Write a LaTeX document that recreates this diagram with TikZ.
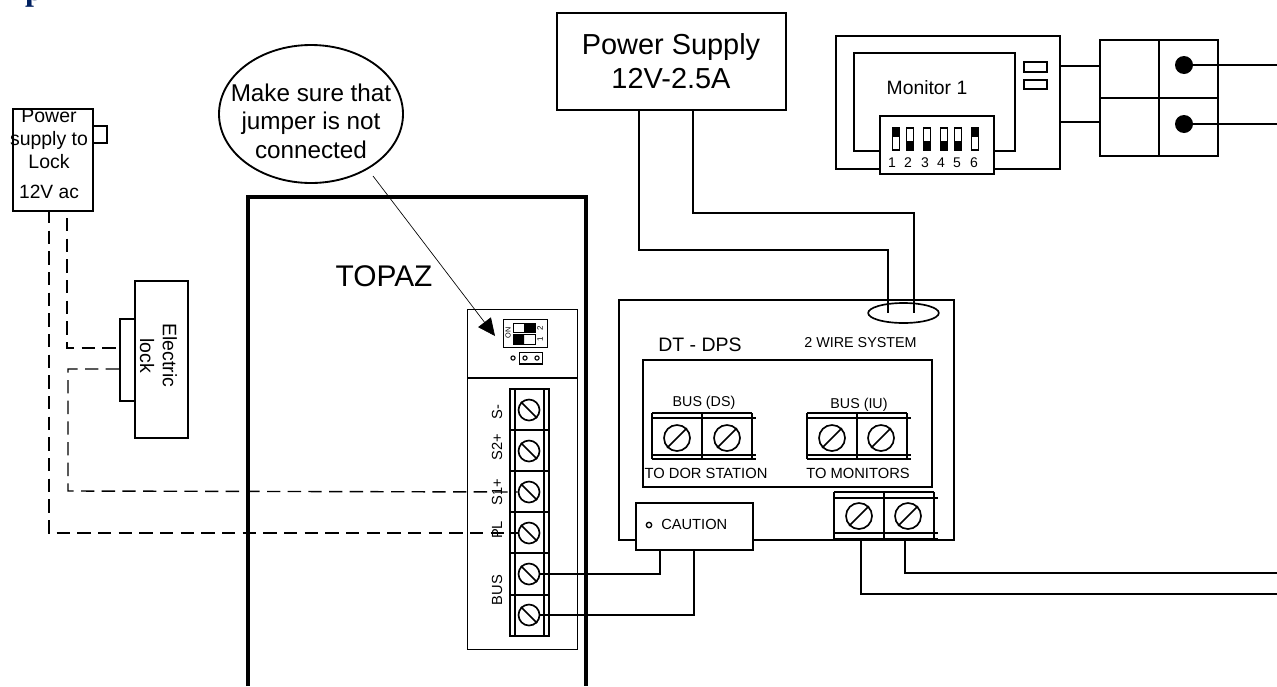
\documentclass[tikz,border=0pt]{standalone}
\usepackage{fontspec}
\setmainfont{Liberation Sans}
\usetikzlibrary{arrows.meta,calc,shapes.geometric}
\definecolor{navy}{RGB}{0,32,96}
\tikzset{
 wire/.style={line width=1.2pt,line join=miter},
 dashwire/.style={line width=1.05pt,dash pattern=on 10pt off 5.5pt},
 boxn/.style={draw,line width=1.25pt,fill=white,inner sep=0pt,align=center},
 thin box/.style={draw,line width=0.6pt,inner sep=0pt},
 screwn/.style={circle,draw,line width=1.25pt,inner sep=0pt,minimum size=#1*0.75pt},
 lbl/.style={inner sep=0pt,align=center},
}
% \bx name x1 y1 x2 y2 extra : rectangle as a named node
\newcommand{\bx}[6]{\node[boxn,#6,minimum width=#4*0.75pt-#2*0.75pt,minimum height=#5*0.75pt-#3*0.75pt,anchor=north west] (#1) at (#2,#3) {};}
\newcommand{\screwA}[4]{\node[screwn=#4,fill=white] (#1) at (#2,#3) {};\draw[line width=1.25pt] (#1.135) -- (#1.-45);}
\newcommand{\screwB}[4]{\node[screwn=#4,fill=white] (#1) at (#2,#3) {};\draw[line width=1.25pt] (#1.45) -- (#1.-135);}
% horizontal terminal block: x1 xdiv x2 y1 y2 y3 y4
\newcommand{\termblock}[7]{\draw[line width=1.2pt] (#1,#4) -- (#3,#4) (#1,#5) -- ++(#3-#1+4,0) (#1,#6) -- ++(#3-#1+4,0) (#1,#7) -- ++(#3-#1+4,0) (#1,#4) -- (#1,#7) (#2,#4) -- (#2,#7) (#3,#4) -- (#3,#7);}
\begin{document}
\begin{tikzpicture}[x=0.75pt,y=-0.75pt]
\useasboundingbox (0,0) rectangle (1277,686);
\clip (0,0) rectangle (1277,686);
% cropped title letter
\node[anchor=base,inner sep=0pt,text=navy,font=\fontspec{Liberation Serif}\bfseries\fontsize{24}{24}\selectfont] (ttl) at (34,0) {p};
% Power supply
\bx{ps}{556}{12}{785}{109}{}
\node[lbl,font=\fontsize{21.7}{25.5}\selectfont] (pst) at (671,61.5) {Power Supply\\12V-2.5A};
% Monitor
\bx{mon}{835}{35}{1059}{168}{}
\bx{moni}{853}{52}{1014}{150}{}
\node[lbl,font=\fontsize{14.5}{15}\selectfont] (mont) at (927,88) {Monitor 1};
\bx{dip}{879}{115}{993}{173}{}
\bx{mb1}{1023}{61}{1046}{71}{}
\bx{mb2}{1023}{79}{1046}{88}{}
\foreach \n/\x/\t/\lx in {1/896/1/892,2/910/0/908,3/927/0/925,4/944/0/941,5/958/0/957,6/975/1/974}{
 \node[draw,line width=1pt,fill=white,minimum width=5.2pt,minimum height=16.5pt,inner sep=0pt] (sw\n) at (\x,139) {};
 \ifnum\t=1 \fill (\x-3.5,128) rectangle (\x+3.5,137);\else \fill (\x-3.5,141) rectangle (\x+3.5,150);\fi
 \node[lbl,font=\fontsize{10.5}{11}\selectfont] (swl\n) at (\lx,163) {\n};
}
% Relay box
\bx{rb}{1099}{39}{1217}{155}{}
\draw[wire] (rb.north) -- (rb.south) (rb.west) -- (rb.east);
\node[circle,fill,minimum size=13.5pt,inner sep=0pt] (d1) at (1184,65) {};
\node[circle,fill,minimum size=13.5pt,inner sep=0pt] (d2) at (1184,124) {};
\coordinate (e1) at (1277,65); \coordinate (e2) at (1277,124);
\draw[wire] (d1) -- (e1) (d2) -- (e2);
\coordinate (m1) at (1059,66); \coordinate (m2) at (1059,122);
\draw[wire] (m1) -- (1099,66) (m2) -- (1099,122);
% Lock supply
\bx{lk}{12}{108}{92}{210}{}
\bx{lks}{92}{125}{106}{142}{}
\node[lbl,font=\fontsize{14.6}{17.5}\selectfont] (lkt) at (49,139) {Power\\supply to\\Lock};
\node[lbl,font=\fontsize{14.4}{14}\selectfont] (lkv) at (49,192) {12V ac};
% Electric lock
\bx{el}{134}{280}{187}{437}{}
\bx{eli}{119}{318}{134}{400}{}
\node[lbl,rotate=-90,font=\fontsize{14.6}{17}\selectfont] (elt) at (158.5,355.5) {Electric\\lock};
% TOPAZ
\coordinate (tl) at (248,686); \coordinate (tr) at (586,686);
\draw[line width=2.3pt] (tl) -- (248,197) -- (586,197) -- (tr);
\node[lbl,font=\fontsize{22.4}{24}\selectfont] (tp) at (384,276) {TOPAZ};
% Panel
\node[thin box,line width=0.8pt,minimum width=82.5pt,minimum height=255pt,anchor=north west] (pan) at (467,308.5) {};
\draw[line width=0.8pt] (467,378) -- (577,378);
% DIP on panel
\node[thin box,line width=0.8pt,minimum width=33pt,minimum height=21pt,anchor=north west] (dp) at (503,319) {};
\node[boxn,line width=0.8pt,minimum width=16.5pt,minimum height=6.8pt,anchor=north west] (dp2) at (513,323) {};
\node[boxn,line width=0.8pt,minimum width=16.5pt,minimum height=7.5pt,anchor=north west] (dp1) at (513,334) {};
\fill (524,323) rectangle (535,332) (513,334) rectangle (524,344);
\node[lbl,rotate=90,font=\fontsize{5.5}{6}\selectfont] (on) at (508,333) {ON};
\node[lbl,rotate=90,font=\fontsize{6}{6}\selectfont] (n2) at (540,328) {2};
\node[lbl,rotate=90,font=\fontsize{6}{6}\selectfont] (n1) at (540,339) {1};
\node[boxn,line width=1pt,minimum width=17pt,minimum height=8.5pt,anchor=north west] (jp) at (519,352) {};
\foreach \n/\x in {a/513,b/525,c/537}{\node[circle,draw,line width=0.8pt,minimum size=3.2pt,inner sep=0pt] (jp\n) at (\x,358) {};}
% Terminal strip
\draw[line width=1.2pt] (510,389) rectangle (549,636) (515,389) -- (515,636) (544,389) -- (544,636);
\foreach \y in {430,471,512,553,595}{\draw[line width=1.2pt] (510,\y) -- (549,\y);}
\screwA{t1}{529}{410}{21}
\screwA{t2}{529}{451}{21}
\screwA{t3}{529}{492}{21}
\screwA{t4}{529}{533}{21}
\screwA{t5}{529}{574}{21}
\screwA{t6}{529}{615}{21}
\foreach \n/\y/\t in {a/412/S-,b/447/S2+,c/492/S1+,d/530/PL,e/590/BUS}{
 \node[lbl,rotate=90,font=\fontsize{11}{12}\selectfont] (pl\n) at (497,\y) {\t};}
% Dashed wires
\draw[dashwire] (49,210) -- (49,533) -- (t4.west);
\coordinate (dsA) at (67,218);
\draw[dashwire] (dsA) -- (67,348) -- (119,348);
\draw[dashwire] (119,369) -- (68,369) -- (68,491) -- (t3.west);
% DT-DPS
\bx{dt}{618}{299}{953}{539}{}
\node[lbl,anchor=west,font=\fontsize{14.6}{16}\selectfont] (dtt) at (658,345) {DT - DPS};
\node[lbl,font=\fontsize{10.75}{12}\selectfont] (w2) at (860.5,343) {2 WIRE SYSTEM};
\bx{dti}{642}{359}{931}{486}{}
\termblock{652}{702}{752}{413}{418}{455}{459}
\screwB{s1}{677}{438}{26}
\screwB{s2}{727}{438}{26}
\termblock{807}{857}{907}{413}{418}{455}{459}
\screwB{s3}{832}{438}{26}
\screwB{s4}{881}{438}{26}
\node[lbl,font=\fontsize{10.7}{12}\selectfont] (bd) at (704,403) {BUS (DS)};
\node[lbl,font=\fontsize{10.7}{12}\selectfont] (bi) at (859,405) {BUS (IU)};
\node[lbl,font=\fontsize{11.05}{12}\selectfont] (td) at (706,473) {TO DOR STATION};
\node[lbl,font=\fontsize{11.05}{12}\selectfont] (tm) at (858,473) {TO MONITORS};
\fill[white] (834,492) rectangle (933,539);
\termblock{834}{884}{934}{492}{498}{533}{539}
\screwB{s5}{859}{516}{26}
\screwB{s6}{908}{516}{26}
% Caution
\bx{ca}{635}{502}{752}{549}{}
\node[circle,draw,line width=1pt,minimum size=4pt,inner sep=0pt] (cc) at (649,525) {};
\node[lbl,anchor=west,font=\fontsize{11}{12}\selectfont] (cat) at (661,524) {CAUTION};
% Wires
\draw[wire] (t5.east) -- (660,574) -- (660,549);
\draw[wire] (t6.east) -- (694,615) -- (694,549);
\coordinate (b1) at (1277,594); \coordinate (b2) at (1277,573);
\draw[wire] (861,539) -- (861,594) -- (b1);
\draw[wire] (905,539) -- (905,573) -- (b2);
% Ellipse and supply wires
\node[draw,ellipse,line width=1.25pt,minimum width=53pt,minimum height=15pt,inner sep=0pt] (ov) at (903.5,313) {};
\draw[wire] (639,109) -- (639,250) -- (888,250) -- (888,313);
\draw[wire] (693,109) -- (693,213) -- (914,213) -- (914,313);
% Callout
\node[draw,ellipse,line width=1.4pt,fill=white,minimum width=138pt,minimum height=103.5pt,inner sep=0pt] (co) at (311,114) {};
\node[lbl,font=\fontsize{18.2}{21.5}\selectfont] (cot) at (311,121) {Make sure that\\jumper is not\\connected};
\coordinate (ast) at (373,176);
\coordinate (tip) at (495,336);
\draw[line width=0.5pt,-{Triangle[length=13pt,width=12pt]}] (ast) -- (tip);
\end{tikzpicture}
\end{document}
